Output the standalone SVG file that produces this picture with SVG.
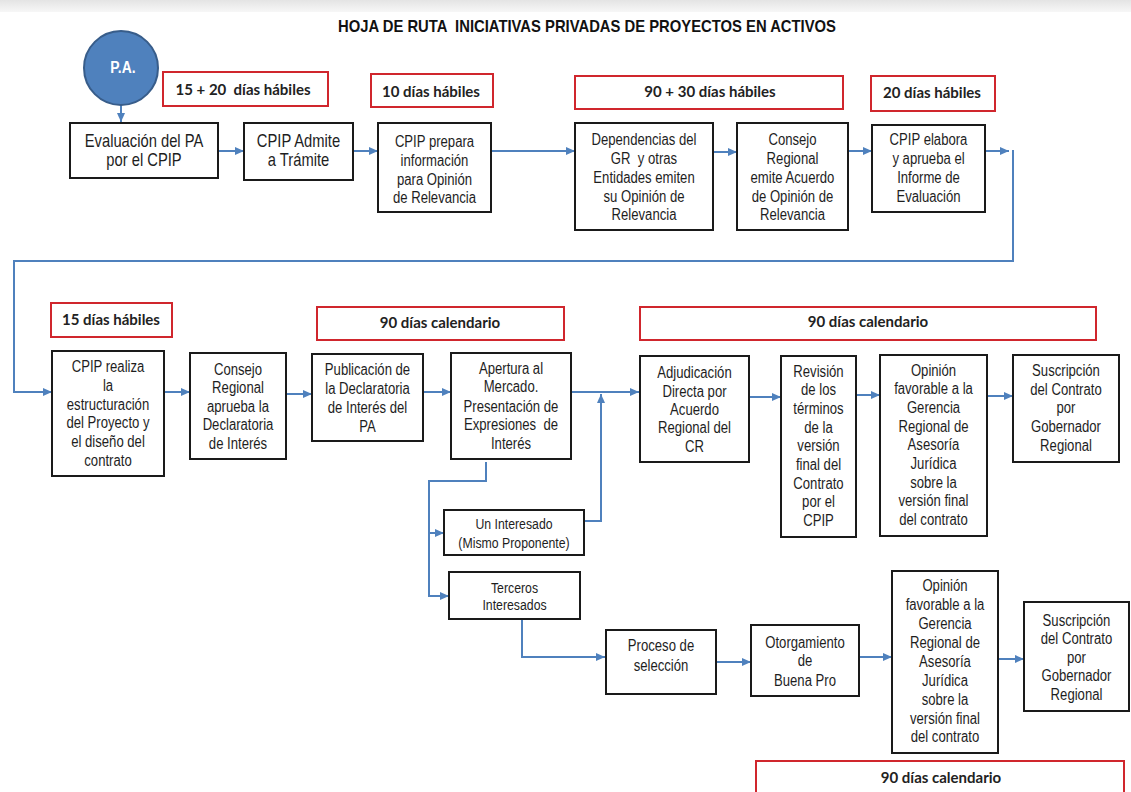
<svg xmlns="http://www.w3.org/2000/svg" width="1131" height="792" viewBox="0 0 1131 792">
<defs>
<linearGradient id="band" x1="0" y1="0" x2="0" y2="1">
<stop offset="0" stop-color="#e4e4e4"/>
<stop offset="1" stop-color="#f7f7f7"/>
</linearGradient>
<marker id="ah" markerWidth="9" markerHeight="8" refX="9" refY="4" orient="auto" markerUnits="userSpaceOnUse">
<path d="M0,0 L9,4 L0,8 z" fill="#4f81bd"/>
</marker>
</defs>
<style>
.box{fill:#fff;stroke:#1a1a1a;stroke-width:2}
.red{fill:#fff;stroke:#d0262d;stroke-width:2}
.t{font-family:"Liberation Sans",Arial,sans-serif;font-size:16px;fill:#1e1e1e;text-anchor:middle;white-space:pre}
.t18{font-size:18px}
.t15{font-size:15px}
.r{font-family:Lato,"Liberation Sans",sans-serif;font-size:15px;font-weight:bold;fill:#222;text-anchor:middle;white-space:pre}
.ca{fill:none;stroke:#4f81bd;stroke-width:2;marker-end:url(#ah)}
</style>
<rect x="0" y="0" width="1131" height="792" fill="#fff"/>
<rect x="0" y="0" width="1131" height="12" fill="url(#band)"/>
<text x="587" y="32" textLength="498" lengthAdjust="spacingAndGlyphs" style="font-family:'Liberation Sans',Arial,sans-serif;font-size:17px;font-weight:bold;fill:#111;text-anchor:middle;white-space:pre">HOJA DE RUTA  INICIATIVAS PRIVADAS DE PROYECTOS EN ACTIVOS</text>

<g id="connectors">
<path class="ca" d="M121,105 V122"/>
<path class="ca" d="M218,151 H244"/>
<path class="ca" d="M353,151 H378"/>
<path class="ca" d="M491,151 H575"/>
<path class="ca" d="M713,152 H737"/>
<path class="ca" d="M848,151 H872"/>
<path class="ca" d="M985,151 H1009"/>
<path class="ca" d="M1013,150 V261 H14 V392 H52"/>
<path class="ca" d="M164,392 H190"/>
<path class="ca" d="M286,394 H312"/>
<path class="ca" d="M423,392 H451"/>
<path class="ca" d="M571,392 H639"/>
<path class="ca" d="M584,521 H601 V394"/>
<path class="ca" d="M749,397 H781"/>
<path class="ca" d="M856,395 H880"/>
<path class="ca" d="M987,396 H1013"/>
<path class="ca" d="M486,462 V481 H429 V596 H449"/>
<path class="ca" d="M429,533 H444"/>
<path class="ca" d="M522,619 V657 H605"/>
<path class="ca" d="M717,662 H751"/>
<path class="ca" d="M859,657 H892"/>
<path class="ca" d="M998,659 H1024"/>
</g>

<g id="pa">
<circle cx="121" cy="68" r="37" fill="#4f81bd" stroke="#385d8a" stroke-width="2"/>
<g transform="translate(123 0) scale(0.82 1)"><text y="73.5" style="font-family:'Liberation Sans',Arial,sans-serif;font-size:17px;font-weight:bold;fill:#fff;text-anchor:middle">P.A.</text></g>
</g>

<g id="lbl1"><rect class="red" x="163" y="72" width="165" height="34"/><text class="r" x="243" y="95">15 + 20  días hábiles</text></g>
<g id="lbl2"><rect class="red" x="371" y="74" width="122" height="33"/><text class="r" x="431" y="96.5">10 días hábiles</text></g>
<g id="lbl3"><rect class="red" x="575" y="76" width="268" height="33"/><text class="r" x="710" y="96.5">90 + 30 días hábiles</text></g>
<g id="lbl4"><rect class="red" x="871" y="76" width="124" height="35"/><text class="r" x="932" y="97.5">20 días hábiles</text></g>
<g id="lbl5"><rect class="red" x="51" y="303" width="121" height="34"/><text class="r" x="111" y="325">15 días hábiles</text></g>
<g id="lbl6"><rect class="red" x="317" y="307" width="247" height="33"/><text class="r" x="440" y="328">90 días calendario</text></g>
<g id="lbl7"><rect class="red" x="640" y="307" width="456" height="33"/><text class="r" x="868" y="327">90 días calendario</text></g>
<g id="lbl8"><rect class="red" x="756" y="761" width="368" height="40"/><text class="r" x="941" y="783">90 días calendario</text></g>

<g id="n-eval"><rect class="box" x="70" y="123" width="148" height="55"/>
<g transform="translate(144 0) scale(0.82 1)"><text class="t t18" y="147">Evaluación del PA</text><text class="t t18" y="166.5">por el CPIP</text></g></g>

<g id="n-admite"><rect class="box" x="244" y="123" width="109" height="57"/>
<g transform="translate(298.5 0) scale(0.82 1)"><text class="t t18" y="147">CPIP Admite</text><text class="t t18" y="166.5">a Trámite</text></g></g>

<g id="n-prepara"><rect class="box" x="378" y="123" width="113" height="89"/>
<g transform="translate(434.5 0) scale(0.82 1)"><text class="t" y="147">CPIP prepara</text><text class="t" y="166">información</text><text class="t" y="185">para Opinión</text><text class="t" y="203">de Relevancia</text></g></g>

<g id="n-dep"><rect class="box" x="575" y="123" width="138" height="107"/>
<g transform="translate(644 0) scale(0.82 1)"><text class="t" y="145">Dependencias del</text><text class="t" y="164">GR  y otras</text><text class="t" y="183">Entidades emiten</text><text class="t" y="202">su Opinión de</text><text class="t" y="220">Relevancia</text></g></g>

<g id="n-consejo1"><rect class="box" x="737" y="123" width="111" height="107"/>
<g transform="translate(792.5 0) scale(0.82 1)"><text class="t" y="145">Consejo</text><text class="t" y="164">Regional</text><text class="t" y="183">emite Acuerdo</text><text class="t" y="202">de Opinión de</text><text class="t" y="220">Relevancia</text></g></g>

<g id="n-elabora"><rect class="box" x="872" y="125" width="113" height="87"/>
<g transform="translate(928.5 0) scale(0.82 1)"><text class="t" y="145">CPIP elabora</text><text class="t" y="164">y aprueba el</text><text class="t" y="183">Informe de</text><text class="t" y="202">Evaluación</text></g></g>

<g id="n-realiza"><rect class="box" x="52" y="351" width="112" height="125"/>
<g transform="translate(108 0) scale(0.82 1)"><text class="t" y="372">CPIP realiza</text><text class="t" y="391">la</text><text class="t" y="410">estructuración</text><text class="t" y="428.5">del Proyecto y</text><text class="t" y="447">el diseño del</text><text class="t" y="466">contrato</text></g></g>

<g id="n-consejo2"><rect class="box" x="190" y="353" width="96" height="106"/>
<g transform="translate(238 0) scale(0.82 1)"><text class="t" y="375">Consejo</text><text class="t" y="393">Regional</text><text class="t" y="412">aprueba la</text><text class="t" y="430">Declaratoria</text><text class="t" y="449">de Interés</text></g></g>

<g id="n-publicacion"><rect class="box" x="312" y="354" width="111" height="87"/>
<g transform="translate(367.5 0) scale(0.82 1)"><text class="t" y="375">Publicación de</text><text class="t" y="394">la Declaratoria</text><text class="t" y="413">de Interés del</text><text class="t" y="432">PA</text></g></g>

<g id="n-apertura"><rect class="box" x="451" y="353" width="120" height="106"/>
<g transform="translate(511 0) scale(0.82 1)"><text class="t" y="374">Apertura al</text><text class="t" y="392">Mercado.</text><text class="t" y="412">Presentación de</text><text class="t" y="430">Expresiones  de</text><text class="t" y="449">Interés</text></g></g>

<g id="n-adjudicacion"><rect class="box" x="640" y="356" width="109" height="106"/>
<g transform="translate(694.5 0) scale(0.82 1)"><text class="t" y="378">Adjudicación</text><text class="t" y="397">Directa por</text><text class="t" y="415">Acuerdo</text><text class="t" y="433">Regional del</text><text class="t" y="452">CR</text></g></g>

<g id="n-revision"><rect class="box" x="781" y="356" width="75" height="181"/>
<g transform="translate(818.5 0) scale(0.82 1)"><text class="t" y="377">Revisión</text><text class="t" y="395.5">de los</text><text class="t" y="414">términos</text><text class="t" y="433">de la</text><text class="t" y="451.5">versión</text><text class="t" y="470">final del</text><text class="t" y="489">Contrato</text><text class="t" y="507.5">por el</text><text class="t" y="526">CPIP</text></g></g>

<g id="n-opinion1"><rect class="box" x="880" y="355" width="107" height="181"/>
<g transform="translate(933.5 0) scale(0.82 1)"><text class="t" y="376">Opinión</text><text class="t" y="394.5">favorable a la</text><text class="t" y="413">Gerencia</text><text class="t" y="432">Regional de</text><text class="t" y="450.5">Asesoría</text><text class="t" y="469">Jurídica</text><text class="t" y="488">sobre la</text><text class="t" y="506.5">versión final</text><text class="t" y="525">del contrato</text></g></g>

<g id="n-suscripcion1"><rect class="box" x="1013" y="355" width="106" height="107"/>
<g transform="translate(1066 0) scale(0.82 1)"><text class="t" y="376">Suscripción</text><text class="t" y="395">del Contrato</text><text class="t" y="413.5">por</text><text class="t" y="432">Gobernador</text><text class="t" y="451">Regional</text></g></g>

<g id="n-uninteresado"><rect class="box" x="444" y="510" width="140" height="45"/>
<g transform="translate(514 0) scale(0.82 1)"><text class="t t15" y="529">Un Interesado</text><text class="t t15" y="548">(Mismo Proponente)</text></g></g>

<g id="n-terceros"><rect class="box" x="449" y="572" width="131" height="47"/>
<g transform="translate(514.5 0) scale(0.82 1)"><text class="t t15" y="593">Terceros</text><text class="t t15" y="610">Interesados</text></g></g>

<g id="n-proceso"><rect class="box" x="606" y="630" width="110" height="64"/>
<g transform="translate(661 0) scale(0.82 1)"><text class="t" y="651.5">Proceso de</text><text class="t" y="671">selección</text></g></g>

<g id="n-otorgamiento"><rect class="box" x="751" y="625" width="108" height="71"/>
<g transform="translate(805 0) scale(0.82 1)"><text class="t" y="648">Otorgamiento</text><text class="t" y="666.5">de</text><text class="t" y="686">Buena Pro</text></g></g>

<g id="n-opinion2"><rect class="box" x="892" y="571" width="106" height="182"/>
<g transform="translate(945 0) scale(0.82 1)"><text class="t" y="591.5">Opinión</text><text class="t" y="610.5">favorable a la</text><text class="t" y="629">Gerencia</text><text class="t" y="648">Regional de</text><text class="t" y="667">Asesoría</text><text class="t" y="686">Jurídica</text><text class="t" y="705">sobre la</text><text class="t" y="724">versión final</text><text class="t" y="742.5">del contrato</text></g></g>

<g id="n-suscripcion2"><rect class="box" x="1024" y="602" width="105" height="109"/>
<g transform="translate(1076.5 0) scale(0.82 1)"><text class="t" y="626">Suscripción</text><text class="t" y="644.5">del Contrato</text><text class="t" y="663">por</text><text class="t" y="681.5">Gobernador</text><text class="t" y="700">Regional</text></g></g>
</svg>
